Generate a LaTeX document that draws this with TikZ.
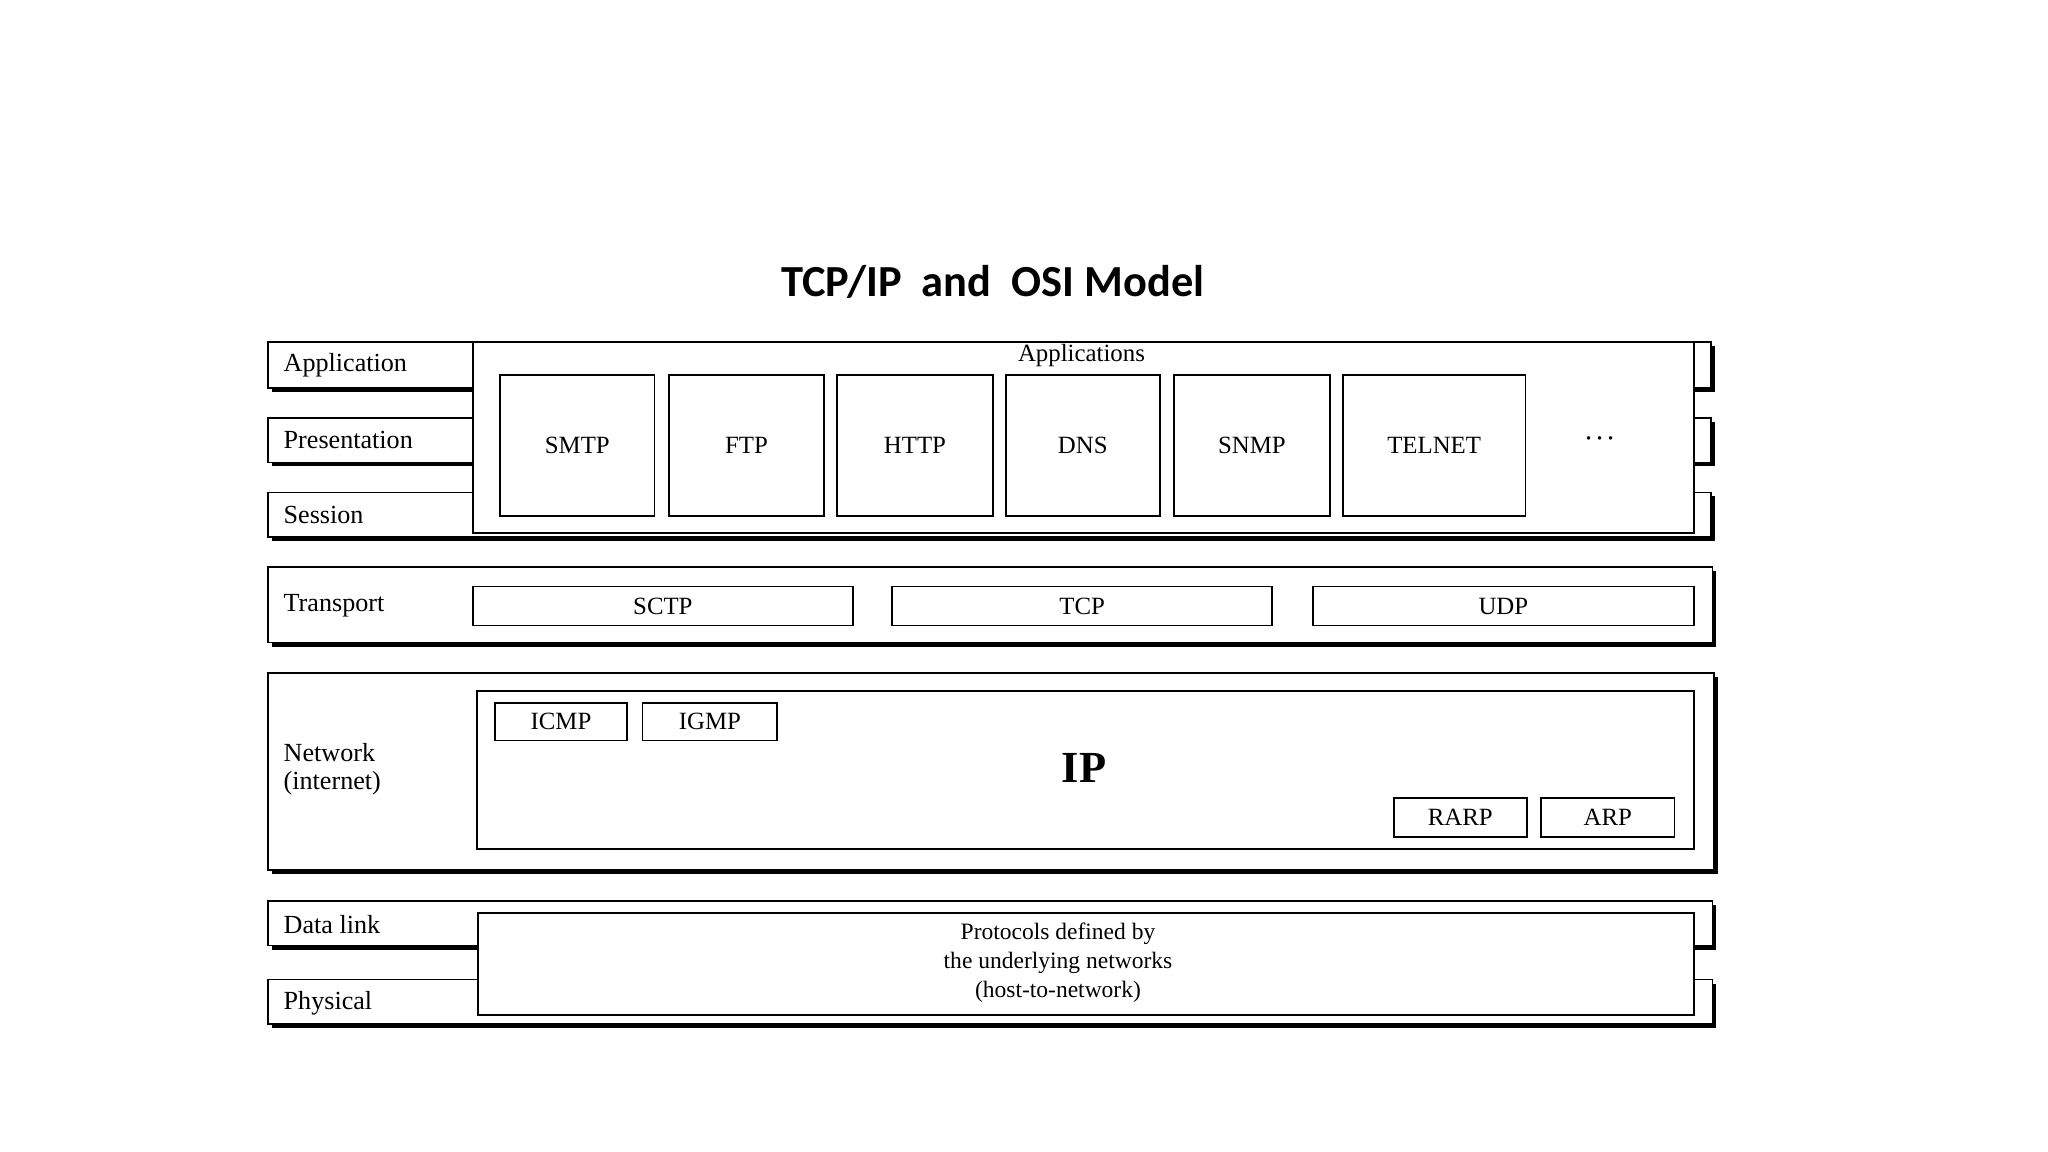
\documentclass[tikz,border=0pt]{standalone}
\usepackage{fontspec}
\setmainfont{Liberation Serif}
\newfontfamily\titlefont{Carlito}
\usetikzlibrary{shadows}
\begin{document}
\begin{tikzpicture}[x=1pt,y=-1pt,
  bar/.style={draw,fill=white,line width=1.3pt,inner sep=0,drop shadow={shadow xshift=3pt,shadow yshift=-3pt,fill=black,opacity=1}},
  box/.style={draw,fill=white,line width=1.3pt,inner sep=0,font=\fontsize{19}{21}\selectfont},
  lab/.style={anchor=west,inner sep=0,font=\fontsize{20}{22}\selectfont}]
\useasboundingbox (0,0) rectangle (1568,882);
\node (title) at (760,216) {\titlefont\bfseries\fontsize{34}{38}\selectfont TCP/IP\ \ and\ \ OSI Model};
% bars
\newcommand{\mkbar}[5]{\node[bar,minimum width={#4-#2},minimum height={#5-#3}] (#1) at ({(#2+#4)/2},{(#3+#5)/2}) {};}
\mkbar{app}{205}{262}{1310}{297}
\mkbar{pres}{205}{320}{1310}{354}
\mkbar{sess}{205}{377}{1310}{411}
\mkbar{trans}{205}{434}{1311}{492}
\mkbar{net}{205}{515}{1312}{666}
\mkbar{dl}{205}{690}{1311}{724}
\mkbar{phy}{205}{750}{1311}{784}
\node[lab] (lapp) at (217,280) {Application};
\node[lab] (lpres) at (217,337) {Presentation};
\node[lab] (lsess) at (217,394) {Session};
\node[lab] (ltrans) at (217,464) {Transport};
\node[lab,align=left] (lnet) at (217,589) {Network\\(internet)};
\node[lab] (ldl) at (217,708) {Data link};
\node[lab] (lphy) at (217,768) {Physical};
\newcommand{\mkbox}[6]{\node[box,minimum width={#4-#2},minimum height={#5-#3}] (#1) at ({(#2+#4)/2},{(#3+#5)/2}) {#6};}
% applications
\mkbox{apps}{362}{262}{1297}{408}{}
\node[font=\fontsize{19}{21}\selectfont] (appst) at (828,272) {Applications};
\mkbox{smtp}{383}{287}{501}{395}{SMTP}
\mkbox{ftp}{512}{287}{631}{395}{FTP}
\mkbox{http}{641}{287}{760}{395}{HTTP}
\mkbox{dns}{770}{287}{888}{395}{DNS}
\mkbox{snmp}{899}{287}{1018}{395}{SNMP}
\mkbox{telnet}{1028}{287}{1168}{395}{TELNET}
\node[font=\fontsize{28}{28}\selectfont\bfseries] (dots) at (1225,336) {$\cdot\!\cdot\!\cdot$};
% transport
\mkbox{sctp}{362}{449}{653}{479}{SCTP}
\mkbox{tcp}{683}{449}{974}{479}{TCP}
\mkbox{udp}{1005}{449}{1297}{479}{UDP}
% network
\mkbox{ip}{365}{529}{1297}{650}{}
\node[font=\fontsize{34}{36}\selectfont\bfseries] (ipt) at (830,588) {IP};
\mkbox{icmp}{379}{538}{480}{567}{ICMP}
\mkbox{igmp}{492}{538}{595}{567}{IGMP}
\mkbox{rarp}{1067}{611}{1169}{641}{RARP}
\mkbox{arp}{1180}{611}{1282}{641}{ARP}
% host to network
\mkbox{h2n}{366}{699}{1297}{777}{}
\node[align=center,font=\fontsize{18}{22}\selectfont] (h2nt) at (810,737) {Protocols defined by\\the underlying networks\\(host-to-network)};
\end{tikzpicture}
\end{document}
